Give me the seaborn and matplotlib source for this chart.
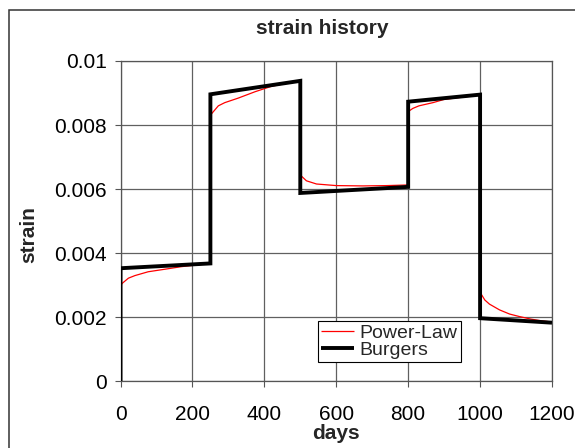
import matplotlib
matplotlib.use("Agg")
import matplotlib.pyplot as plt
from matplotlib.patches import Rectangle
import seaborn as sns
import pandas as pd

# ---- data ----
burgers_days = [0, 0, 250, 250, 500, 500, 800, 800, 1000, 1000, 1200]
burgers_strain = [0, 0.00353, 0.00368, 0.00896, 0.00938, 0.00588, 0.00607,
                  0.00873, 0.00895, 0.00197, 0.00183]

power_days = [0, 1, 5, 22, 40, 77, 124, 170, 210, 250,
              250, 272, 290, 327, 374, 420, 460, 500,
              500, 517, 545, 600, 674, 740, 800,
              800, 813, 830, 869, 900, 950, 1000,
              1000, 1013, 1026, 1054, 1082, 1110, 1142, 1170, 1200]
power_strain = [0, 0.00300, 0.00306, 0.00322, 0.00330, 0.00342, 0.00350, 0.00358, 0.00363, 0.00368,
                0.00831, 0.00860, 0.00870, 0.00884, 0.00904, 0.00921, 0.00930, 0.00939,
                0.00644, 0.00626, 0.00616, 0.00611, 0.00610, 0.00611, 0.00613,
                0.00842, 0.00852, 0.00860, 0.00870, 0.00880, 0.00887, 0.00894,
                0.00278, 0.00254, 0.00241, 0.00223, 0.00210, 0.00202, 0.00194, 0.00189, 0.00185]

x_ticks = [0, 200, 400, 600, 800, 1000, 1200]
y_ticks = [0, 0.002, 0.004, 0.006, 0.008, 0.01]
y_tick_labels = ["0", "0.002", "0.004", "0.006", "0.008", "0.01"]

title_text = "strain history"
x_label = "days"
y_label = "strain"
series_names = ["Power-Law", "Burgers"]

# ---- style ----
sns.set_style("white")
plt.rcParams["font.family"] = ["Liberation Sans", "DejaVu Sans"]

W, H = 575, 448
fig = plt.figure(figsize=(W / 100, H / 100), dpi=100)
fig.patch.set_facecolor("white")

left, right, top, bottom = 120.5, 552, 61, 381.3
ax = fig.add_axes([left / W, 1 - bottom / H, (right - left) / W, (bottom - top) / H])

df_p = pd.DataFrame({"days": power_days, "strain": power_strain})
df_b = pd.DataFrame({"days": burgers_days, "strain": burgers_strain})

sns.lineplot(data=df_p, x="days", y="strain", sort=False, estimator=None,
             color="#ff0000", linewidth=0.9, ax=ax, label=series_names[0], zorder=3)
sns.lineplot(data=df_b, x="days", y="strain", sort=False, estimator=None,
             color="black", linewidth=2.8, ax=ax, label=series_names[1], zorder=4)
for ln in ax.get_lines():
    ln.set_solid_joinstyle("miter")
    ln.set_solid_capstyle("butt")

ax.set_xlim(0, 1200)
ax.set_ylim(0, 0.01)
ax.set_xticks(x_ticks)
ax.set_xticklabels([str(v) for v in x_ticks])
ax.set_yticks(y_ticks)
ax.set_yticklabels(y_tick_labels)
ax.tick_params(axis="both", direction="out", length=4.3, width=0.8, color="#555555",
               labelsize=15, labelcolor="black")
ax.tick_params(axis="y", pad=5.5, left=True)
ax.tick_params(axis="x", pad=12.5, bottom=True)

ax.grid(True, color="#606060", linewidth=0.9)
ax.set_axisbelow(True)
for sp in ax.spines.values():
    sp.set_visible(True)
    sp.set_color("#555555")
    sp.set_linewidth(0.9)

ax.set_xlabel("")
ax.set_ylabel("")

leg = ax.legend(loc="upper left", bbox_to_anchor=(318 / W, 1 - 321 / H),
                bbox_transform=fig.transFigure, fontsize=14, frameon=True,
                fancybox=False, framealpha=1, edgecolor="black",
                handlelength=1.7, handletextpad=0.3, borderpad=0.15,
                labelspacing=0.0, borderaxespad=0)
leg.get_frame().set_linewidth(0.8)
leg.set_zorder(10)

fig.text(322 / W, 1 - 28 / H, title_text, ha="center", va="center",
         fontsize=15, fontweight="bold")
fig.text(336 / W, 1 - 433 / H, x_label, ha="center", va="center",
         fontsize=15, fontweight="bold")
fig.text(28.5 / W, 1 - 235 / H, y_label, ha="center", va="center",
         rotation=90, fontsize=15, fontweight="bold")

fig.patches.append(Rectangle((9.3 / W, -0.1), 1.2, 1.1 - 10 / H,
                             transform=fig.transFigure, fill=False,
                             edgecolor="#333333", linewidth=1.1, figure=fig))

fig.savefig("out.png", dpi=100)
